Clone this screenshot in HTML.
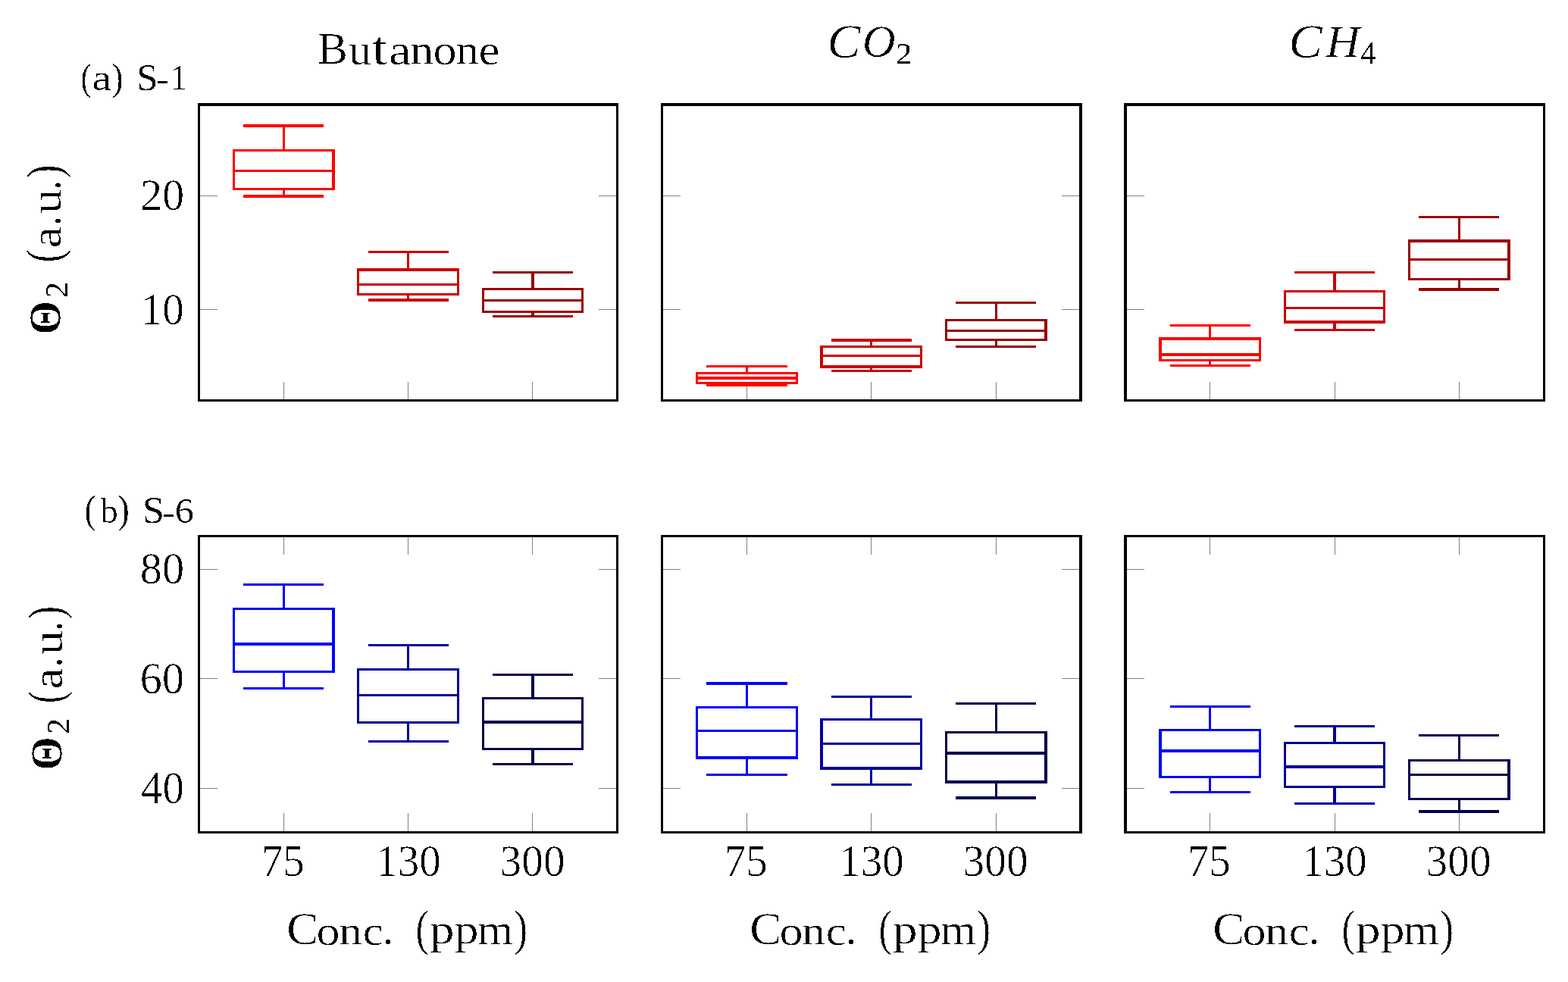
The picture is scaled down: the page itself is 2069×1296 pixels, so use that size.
<!DOCTYPE html>
<html lang="en"><head><meta charset="utf-8"><title>Boxplots: Butanone, CO2, CH4 (S-1, S-6)</title>
<style>html,body{margin:0;padding:0;background:#fff}body{width:2069px;height:1296px;overflow:hidden}svg{display:block}text{font-family:'Liberation Serif', serif;fill:#000;stroke:#fff}</style></head><body>
<svg width="2069" height="1296" viewBox="0 0 2069 1296">
<rect width="2069" height="1296" fill="#fff"/>
<g fill="#808080" shape-rendering="crispEdges">
<rect x="374" y="504" width="1" height="23"/>
<rect x="538" y="504" width="1" height="23"/>
<rect x="702" y="504" width="1" height="23"/>
<rect x="264" y="258" width="23" height="1"/>
<rect x="790" y="258" width="23" height="1"/>
<rect x="264" y="408" width="23" height="1"/>
<rect x="790" y="408" width="23" height="1"/>
<rect x="985" y="504" width="1" height="23"/>
<rect x="1149" y="504" width="1" height="23"/>
<rect x="1314" y="504" width="1" height="23"/>
<rect x="875" y="258" width="23" height="1"/>
<rect x="1401" y="258" width="23" height="1"/>
<rect x="875" y="408" width="23" height="1"/>
<rect x="1401" y="408" width="23" height="1"/>
<rect x="1596" y="504" width="1" height="23"/>
<rect x="1761" y="504" width="1" height="23"/>
<rect x="1925" y="504" width="1" height="23"/>
<rect x="1487" y="258" width="23" height="1"/>
<rect x="1487" y="408" width="23" height="1"/>
<rect x="374" y="1073" width="1" height="24"/>
<rect x="374" y="709" width="1" height="23"/>
<rect x="538" y="1073" width="1" height="24"/>
<rect x="538" y="709" width="1" height="23"/>
<rect x="702" y="1073" width="1" height="24"/>
<rect x="702" y="709" width="1" height="23"/>
<rect x="264" y="751" width="23" height="1"/>
<rect x="790" y="751" width="23" height="1"/>
<rect x="264" y="895" width="23" height="1"/>
<rect x="790" y="895" width="23" height="1"/>
<rect x="264" y="1040" width="23" height="1"/>
<rect x="790" y="1040" width="23" height="1"/>
<rect x="985" y="1073" width="1" height="24"/>
<rect x="985" y="709" width="1" height="23"/>
<rect x="1149" y="1073" width="1" height="24"/>
<rect x="1149" y="709" width="1" height="23"/>
<rect x="1314" y="1073" width="1" height="24"/>
<rect x="1314" y="709" width="1" height="23"/>
<rect x="875" y="751" width="23" height="1"/>
<rect x="1401" y="751" width="23" height="1"/>
<rect x="875" y="895" width="23" height="1"/>
<rect x="1401" y="895" width="23" height="1"/>
<rect x="875" y="1040" width="23" height="1"/>
<rect x="1401" y="1040" width="23" height="1"/>
<rect x="1596" y="1073" width="1" height="24"/>
<rect x="1596" y="709" width="1" height="23"/>
<rect x="1761" y="1073" width="1" height="24"/>
<rect x="1761" y="709" width="1" height="23"/>
<rect x="1925" y="1073" width="1" height="24"/>
<rect x="1925" y="709" width="1" height="23"/>
<rect x="1487" y="751" width="23" height="1"/>
<rect x="1487" y="895" width="23" height="1"/>
<rect x="1487" y="1040" width="23" height="1"/>
</g>
<g fill="#ff0000" shape-rendering="crispEdges">
<rect x="321" y="164" width="106" height="4"/>
<rect x="321" y="257" width="106" height="4"/>
<rect x="373" y="164" width="3" height="36"/>
<rect x="373" y="248" width="3" height="13"/>
<rect x="307" y="197" width="135" height="3"/>
<rect x="307" y="248" width="135" height="3"/>
<rect x="307" y="224" width="135" height="3"/>
<rect x="307" y="197" width="3" height="54"/>
<rect x="438" y="197" width="4" height="54"/>
</g>
<g fill="#cc0000" shape-rendering="crispEdges">
<rect x="486" y="331" width="106" height="3"/>
<rect x="486" y="394" width="106" height="4"/>
<rect x="537" y="331" width="3" height="27"/>
<rect x="537" y="387" width="3" height="11"/>
<rect x="471" y="354" width="135" height="4"/>
<rect x="471" y="387" width="135" height="3"/>
<rect x="471" y="374" width="135" height="3"/>
<rect x="471" y="354" width="3" height="36"/>
<rect x="603" y="354" width="3" height="36"/>
</g>
<g fill="#990000" shape-rendering="crispEdges">
<rect x="650" y="358" width="106" height="3"/>
<rect x="650" y="416" width="106" height="3"/>
<rect x="701" y="358" width="4" height="25"/>
<rect x="701" y="410" width="4" height="9"/>
<rect x="636" y="380" width="134" height="3"/>
<rect x="636" y="410" width="134" height="3"/>
<rect x="636" y="395" width="134" height="3"/>
<rect x="636" y="380" width="3" height="33"/>
<rect x="767" y="380" width="3" height="33"/>
</g>
<g fill="#ff0000" shape-rendering="crispEdges">
<rect x="932" y="482" width="107" height="3"/>
<rect x="932" y="507" width="107" height="3"/>
<rect x="984" y="482" width="3" height="12"/>
<rect x="984" y="504" width="3" height="6"/>
<rect x="918" y="491" width="135" height="3"/>
<rect x="918" y="504" width="135" height="3"/>
<rect x="918" y="497" width="135" height="4"/>
<rect x="918" y="491" width="3" height="16"/>
<rect x="1050" y="491" width="3" height="16"/>
</g>
<g fill="#cc0000" shape-rendering="crispEdges">
<rect x="1097" y="447" width="106" height="4"/>
<rect x="1097" y="488" width="106" height="3"/>
<rect x="1148" y="447" width="3" height="12"/>
<rect x="1148" y="482" width="3" height="9"/>
<rect x="1082" y="456" width="135" height="3"/>
<rect x="1082" y="482" width="135" height="4"/>
<rect x="1082" y="468" width="135" height="3"/>
<rect x="1082" y="456" width="4" height="30"/>
<rect x="1214" y="456" width="3" height="30"/>
</g>
<g fill="#990000" shape-rendering="crispEdges">
<rect x="1261" y="398" width="106" height="3"/>
<rect x="1261" y="456" width="106" height="3"/>
<rect x="1313" y="398" width="3" height="26"/>
<rect x="1313" y="447" width="3" height="12"/>
<rect x="1247" y="421" width="135" height="3"/>
<rect x="1247" y="447" width="135" height="3"/>
<rect x="1247" y="435" width="135" height="3"/>
<rect x="1247" y="421" width="3" height="29"/>
<rect x="1378" y="421" width="4" height="29"/>
</g>
<g fill="#ff0000" shape-rendering="crispEdges">
<rect x="1544" y="428" width="106" height="3"/>
<rect x="1544" y="481" width="106" height="3"/>
<rect x="1595" y="428" width="3" height="21"/>
<rect x="1595" y="474" width="3" height="10"/>
<rect x="1529" y="445" width="135" height="4"/>
<rect x="1529" y="474" width="135" height="3"/>
<rect x="1529" y="466" width="135" height="4"/>
<rect x="1529" y="445" width="4" height="32"/>
<rect x="1661" y="445" width="3" height="32"/>
</g>
<g fill="#cc0000" shape-rendering="crispEdges">
<rect x="1708" y="358" width="106" height="3"/>
<rect x="1708" y="434" width="106" height="3"/>
<rect x="1759" y="358" width="4" height="28"/>
<rect x="1759" y="423" width="4" height="14"/>
<rect x="1694" y="383" width="134" height="3"/>
<rect x="1694" y="423" width="134" height="4"/>
<rect x="1694" y="405" width="134" height="3"/>
<rect x="1694" y="383" width="3" height="44"/>
<rect x="1825" y="383" width="3" height="44"/>
</g>
<g fill="#990000" shape-rendering="crispEdges">
<rect x="1872" y="285" width="106" height="3"/>
<rect x="1872" y="380" width="106" height="4"/>
<rect x="1924" y="285" width="3" height="35"/>
<rect x="1924" y="367" width="3" height="17"/>
<rect x="1858" y="316" width="135" height="4"/>
<rect x="1858" y="367" width="135" height="3"/>
<rect x="1858" y="341" width="135" height="3"/>
<rect x="1858" y="316" width="3" height="54"/>
<rect x="1989" y="316" width="4" height="54"/>
</g>
<g fill="#0000ff" shape-rendering="crispEdges">
<rect x="321" y="770" width="106" height="3"/>
<rect x="321" y="907" width="106" height="3"/>
<rect x="373" y="770" width="3" height="35"/>
<rect x="373" y="885" width="3" height="25"/>
<rect x="307" y="802" width="135" height="3"/>
<rect x="307" y="885" width="135" height="3"/>
<rect x="307" y="848" width="135" height="4"/>
<rect x="307" y="802" width="3" height="86"/>
<rect x="438" y="802" width="4" height="86"/>
</g>
<g fill="#000099" shape-rendering="crispEdges">
<rect x="486" y="850" width="106" height="3"/>
<rect x="486" y="977" width="106" height="3"/>
<rect x="537" y="850" width="3" height="35"/>
<rect x="537" y="952" width="3" height="28"/>
<rect x="471" y="882" width="135" height="3"/>
<rect x="471" y="952" width="135" height="3"/>
<rect x="471" y="916" width="135" height="3"/>
<rect x="471" y="882" width="3" height="73"/>
<rect x="603" y="882" width="3" height="73"/>
</g>
<g fill="#00004d" shape-rendering="crispEdges">
<rect x="650" y="889" width="106" height="3"/>
<rect x="650" y="1007" width="106" height="3"/>
<rect x="701" y="889" width="4" height="34"/>
<rect x="701" y="987" width="4" height="23"/>
<rect x="636" y="920" width="134" height="3"/>
<rect x="636" y="987" width="134" height="3"/>
<rect x="636" y="951" width="134" height="4"/>
<rect x="636" y="920" width="3" height="70"/>
<rect x="767" y="920" width="3" height="70"/>
</g>
<g fill="#0000ff" shape-rendering="crispEdges">
<rect x="932" y="900" width="107" height="4"/>
<rect x="932" y="1021" width="107" height="3"/>
<rect x="984" y="900" width="3" height="35"/>
<rect x="984" y="998" width="3" height="26"/>
<rect x="918" y="932" width="135" height="3"/>
<rect x="918" y="998" width="135" height="4"/>
<rect x="918" y="963" width="135" height="3"/>
<rect x="918" y="932" width="3" height="70"/>
<rect x="1050" y="932" width="3" height="70"/>
</g>
<g fill="#000099" shape-rendering="crispEdges">
<rect x="1097" y="918" width="106" height="3"/>
<rect x="1097" y="1034" width="106" height="3"/>
<rect x="1148" y="918" width="3" height="33"/>
<rect x="1148" y="1012" width="3" height="25"/>
<rect x="1082" y="948" width="135" height="3"/>
<rect x="1082" y="1012" width="135" height="4"/>
<rect x="1082" y="980" width="135" height="3"/>
<rect x="1082" y="948" width="4" height="68"/>
<rect x="1214" y="948" width="3" height="68"/>
</g>
<g fill="#00004d" shape-rendering="crispEdges">
<rect x="1261" y="927" width="106" height="3"/>
<rect x="1261" y="1051" width="106" height="4"/>
<rect x="1313" y="927" width="3" height="41"/>
<rect x="1313" y="1030" width="3" height="25"/>
<rect x="1247" y="965" width="135" height="3"/>
<rect x="1247" y="1030" width="135" height="4"/>
<rect x="1247" y="992" width="135" height="4"/>
<rect x="1247" y="965" width="3" height="69"/>
<rect x="1378" y="965" width="4" height="69"/>
</g>
<g fill="#0000ff" shape-rendering="crispEdges">
<rect x="1544" y="931" width="106" height="3"/>
<rect x="1544" y="1044" width="106" height="3"/>
<rect x="1595" y="931" width="3" height="34"/>
<rect x="1595" y="1024" width="3" height="23"/>
<rect x="1529" y="962" width="135" height="3"/>
<rect x="1529" y="1024" width="135" height="3"/>
<rect x="1529" y="989" width="135" height="4"/>
<rect x="1529" y="962" width="4" height="65"/>
<rect x="1661" y="962" width="3" height="65"/>
</g>
<g fill="#000099" shape-rendering="crispEdges">
<rect x="1708" y="957" width="106" height="3"/>
<rect x="1708" y="1059" width="106" height="3"/>
<rect x="1759" y="957" width="4" height="25"/>
<rect x="1759" y="1037" width="4" height="25"/>
<rect x="1694" y="979" width="134" height="3"/>
<rect x="1694" y="1037" width="134" height="3"/>
<rect x="1694" y="1010" width="134" height="4"/>
<rect x="1694" y="979" width="3" height="61"/>
<rect x="1825" y="979" width="3" height="61"/>
</g>
<g fill="#00004d" shape-rendering="crispEdges">
<rect x="1872" y="969" width="106" height="3"/>
<rect x="1872" y="1069" width="106" height="4"/>
<rect x="1924" y="969" width="3" height="36"/>
<rect x="1924" y="1053" width="3" height="20"/>
<rect x="1858" y="1002" width="135" height="3"/>
<rect x="1858" y="1053" width="135" height="3"/>
<rect x="1858" y="1021" width="135" height="3"/>
<rect x="1858" y="1002" width="3" height="54"/>
<rect x="1989" y="1002" width="4" height="54"/>
</g>
<g fill="#000" shape-rendering="crispEdges">
<rect x="261" y="136" width="555" height="4"/>
<rect x="261" y="527" width="555" height="3"/>
<rect x="261" y="136" width="3" height="394"/>
<rect x="813" y="136" width="3" height="394"/>
<rect x="872" y="136" width="556" height="4"/>
<rect x="872" y="527" width="556" height="3"/>
<rect x="872" y="136" width="3" height="394"/>
<rect x="1424" y="136" width="4" height="394"/>
<rect x="1483" y="136" width="556" height="4"/>
<rect x="1483" y="527" width="556" height="3"/>
<rect x="1483" y="136" width="4" height="394"/>
<rect x="2036" y="136" width="3" height="394"/>
<rect x="261" y="706" width="555" height="3"/>
<rect x="261" y="1097" width="555" height="3"/>
<rect x="261" y="706" width="3" height="394"/>
<rect x="813" y="706" width="3" height="394"/>
<rect x="872" y="706" width="556" height="3"/>
<rect x="872" y="1097" width="556" height="3"/>
<rect x="872" y="706" width="3" height="394"/>
<rect x="1424" y="706" width="4" height="394"/>
<rect x="1483" y="706" width="556" height="3"/>
<rect x="1483" y="1097" width="556" height="3"/>
<rect x="1483" y="706" width="4" height="394"/>
<rect x="2036" y="706" width="3" height="394"/>
</g>
<defs><filter id="crisp" filterUnits="userSpaceOnUse" x="0" y="0" width="2069" height="1296" color-interpolation-filters="sRGB"><feColorMatrix type="matrix" values="0 0 0 0 0  0 0 0 0 0  0 0 0 0 0  -1 0 0 1 0"/><feComponentTransfer><feFuncA type="discrete" tableValues="0 1"/></feComponentTransfer></filter></defs>
<g filter="url(#crisp)">
<text><tspan x="418.88" y="83.90" font-size="59.90" stroke-width="0.3" textLength="39.96" lengthAdjust="spacingAndGlyphs">B</tspan><tspan x="460.29" y="84.51" font-size="56.59" stroke-width="0.3" textLength="29.80" lengthAdjust="spacingAndGlyphs">u</tspan><tspan x="491.06" y="85.05" font-size="63.88" stroke-width="0.3" textLength="20.07" lengthAdjust="spacingAndGlyphs">t</tspan><tspan x="512.91" y="84.50" font-size="57.06" stroke-width="0.3" textLength="29.69" lengthAdjust="spacingAndGlyphs">a</tspan><tspan x="541.22" y="83.78" font-size="54.74" stroke-width="0.3" textLength="31.07" lengthAdjust="spacingAndGlyphs">n</tspan><tspan x="571.41" y="84.50" font-size="57.06" stroke-width="0.3" textLength="31.07" lengthAdjust="spacingAndGlyphs">o</tspan><tspan x="601.42" y="83.90" font-size="53.97" stroke-width="0.3" textLength="30.39" lengthAdjust="spacingAndGlyphs">n</tspan><tspan x="631.42" y="84.50" font-size="57.06" stroke-width="0.3" textLength="28.01" lengthAdjust="spacingAndGlyphs">e</tspan></text>
<text><tspan x="1091.62" y="75.83" font-size="63.14" font-style="italic" stroke-width="0.3" textLength="44.01" lengthAdjust="spacingAndGlyphs">C</tspan><tspan x="1137.73" y="75.17" font-size="61.04" font-style="italic" stroke-width="0.3" textLength="43.95" lengthAdjust="spacingAndGlyphs">O</tspan><tspan x="1182.03" y="83.90" font-size="40.45" stroke-width="0" textLength="21.37" lengthAdjust="spacingAndGlyphs">2</tspan></text>
<text><tspan x="1700.60" y="75.83" font-size="63.14" font-style="italic" stroke-width="0.3" textLength="44.24" lengthAdjust="spacingAndGlyphs">C</tspan><tspan x="1749.44" y="75.00" font-size="60.06" font-style="italic" stroke-width="0.3" textLength="45.05" lengthAdjust="spacingAndGlyphs">H</tspan><tspan x="1795.24" y="83.90" font-size="41.14" stroke-width="0" textLength="20.37" lengthAdjust="spacingAndGlyphs">4</tspan></text>
<text><tspan x="106.57" y="118.51" font-size="50.34" stroke-width="0.1" textLength="14.39" lengthAdjust="spacingAndGlyphs">(</tspan><tspan x="121.20" y="119.09" font-size="49.00" stroke-width="0.1" textLength="26.08" lengthAdjust="spacingAndGlyphs">a</tspan><tspan x="147.38" y="118.51" font-size="50.34" stroke-width="0.1" textLength="15.14" lengthAdjust="spacingAndGlyphs">)</tspan><tspan> </tspan><tspan x="180.28" y="119.07" font-size="50.99" stroke-width="0.1" textLength="28.29" lengthAdjust="spacingAndGlyphs">S</tspan><tspan x="205.79" y="118.78" font-size="43.34" stroke-width="0.1" textLength="17.24" lengthAdjust="spacingAndGlyphs">-</tspan><tspan x="224.77" y="118.40" font-size="46.93" stroke-width="0.1" textLength="22.21" lengthAdjust="spacingAndGlyphs">1</tspan></text>
<text><tspan x="111.56" y="690.22" font-size="51.95" stroke-width="0.1" textLength="15.32" lengthAdjust="spacingAndGlyphs">(</tspan><tspan x="132.68" y="689.80" font-size="46.48" stroke-width="0.1" textLength="23.04" lengthAdjust="spacingAndGlyphs">b</tspan><tspan x="155.11" y="689.96" font-size="52.02" stroke-width="0.1" textLength="15.92" lengthAdjust="spacingAndGlyphs">)</tspan><tspan> </tspan><tspan x="187.66" y="690.27" font-size="50.43" stroke-width="0.1" textLength="29.39" lengthAdjust="spacingAndGlyphs">S</tspan><tspan x="213.91" y="690.41" font-size="42.51" stroke-width="0.1" textLength="17.26" lengthAdjust="spacingAndGlyphs">-</tspan><tspan x="230.84" y="689.81" font-size="47.03" stroke-width="0.1" textLength="25.13" lengthAdjust="spacingAndGlyphs">6</tspan></text>
<text transform="rotate(-90)"><tspan x="-441.73" y="78.70" font-size="58.96" font-weight="bold" stroke-width="0.6" textLength="44.96" lengthAdjust="spacingAndGlyphs">Θ</tspan><tspan x="-393.28" y="88.50" font-size="41.66" stroke-width="0" textLength="21.50" lengthAdjust="spacingAndGlyphs">2</tspan><tspan> </tspan><tspan x="-346.42" y="79.98" font-size="65.65" stroke-width="0.3" textLength="17.33" lengthAdjust="spacingAndGlyphs">(</tspan><tspan x="-327.51" y="79.82" font-size="57.06" stroke-width="0.3" textLength="28.56" lengthAdjust="spacingAndGlyphs">a</tspan><tspan x="-297.94" y="79.88" font-size="67.35" stroke-width="0.3" textLength="13.17" lengthAdjust="spacingAndGlyphs">.</tspan><tspan x="-282.12" y="79.71" font-size="56.85" stroke-width="0.3" textLength="32.19" lengthAdjust="spacingAndGlyphs">u</tspan><tspan x="-250.66" y="79.88" font-size="67.35" stroke-width="0.3" textLength="13.17" lengthAdjust="spacingAndGlyphs">.</tspan><tspan x="-235.47" y="80.37" font-size="64.65" stroke-width="0.3" textLength="18.31" lengthAdjust="spacingAndGlyphs">)</tspan></text>
<text transform="rotate(-90)"><tspan x="-1016.79" y="81.44" font-size="59.87" font-weight="bold" stroke-width="0.6" textLength="44.64" lengthAdjust="spacingAndGlyphs">Θ</tspan><tspan x="-968.66" y="90.64" font-size="41.30" stroke-width="0" textLength="20.85" lengthAdjust="spacingAndGlyphs">2</tspan><tspan> </tspan><tspan x="-928.15" y="82.36" font-size="65.65" stroke-width="0.3" textLength="16.54" lengthAdjust="spacingAndGlyphs">(</tspan><tspan x="-909.83" y="81.66" font-size="57.06" stroke-width="0.3" textLength="28.56" lengthAdjust="spacingAndGlyphs">a</tspan><tspan x="-880.38" y="81.66" font-size="67.35" stroke-width="0.3" textLength="13.17" lengthAdjust="spacingAndGlyphs">.</tspan><tspan x="-864.46" y="81.66" font-size="57.36" stroke-width="0.3" textLength="32.77" lengthAdjust="spacingAndGlyphs">u</tspan><tspan x="-833.10" y="81.66" font-size="67.35" stroke-width="0.3" textLength="13.17" lengthAdjust="spacingAndGlyphs">.</tspan><tspan x="-817.50" y="82.17" font-size="65.99" stroke-width="0.3" textLength="17.84" lengthAdjust="spacingAndGlyphs">)</tspan></text>
<text><tspan x="185.28" y="276.81" font-size="58.45" stroke-width="0.3" textLength="57.88" lengthAdjust="spacingAndGlyphs">20</tspan></text>
<text><tspan x="185.87" y="428.09" font-size="58.86" stroke-width="0.3" textLength="56.95" lengthAdjust="spacingAndGlyphs">10</tspan></text>
<text><tspan x="184.76" y="769.81" font-size="59.16" stroke-width="0.3" textLength="58.42" lengthAdjust="spacingAndGlyphs">80</tspan></text>
<text><tspan x="184.49" y="915.12" font-size="59.40" stroke-width="0.3" textLength="58.70" lengthAdjust="spacingAndGlyphs">60</tspan></text>
<text><tspan x="185.97" y="1060.07" font-size="60.83" stroke-width="0.3" textLength="56.87" lengthAdjust="spacingAndGlyphs">40</tspan></text>
<text><tspan x="344.64" y="1155.69" font-size="59.27" stroke-width="0.3" textLength="57.09" lengthAdjust="spacingAndGlyphs">75</tspan></text>
<text><tspan x="496.31" y="1155.70" font-size="58.12" stroke-width="0.3" textLength="85.46" lengthAdjust="spacingAndGlyphs">130</tspan></text>
<text><tspan x="659.61" y="1155.70" font-size="58.12" stroke-width="0.3" textLength="85.96" lengthAdjust="spacingAndGlyphs">300</tspan></text>
<text><tspan x="955.64" y="1155.69" font-size="59.27" stroke-width="0.3" textLength="57.09" lengthAdjust="spacingAndGlyphs">75</tspan></text>
<text><tspan x="1107.31" y="1155.70" font-size="58.12" stroke-width="0.3" textLength="85.46" lengthAdjust="spacingAndGlyphs">130</tspan></text>
<text><tspan x="1270.61" y="1155.70" font-size="58.12" stroke-width="0.3" textLength="85.96" lengthAdjust="spacingAndGlyphs">300</tspan></text>
<text><tspan x="1566.64" y="1155.69" font-size="59.27" stroke-width="0.3" textLength="57.09" lengthAdjust="spacingAndGlyphs">75</tspan></text>
<text><tspan x="1718.31" y="1155.70" font-size="58.12" stroke-width="0.3" textLength="85.46" lengthAdjust="spacingAndGlyphs">130</tspan></text>
<text><tspan x="1881.61" y="1155.70" font-size="58.12" stroke-width="0.3" textLength="85.96" lengthAdjust="spacingAndGlyphs">300</tspan></text>
<text><tspan x="378.16" y="1246.47" font-size="61.34" stroke-width="0.3" textLength="42.09" lengthAdjust="spacingAndGlyphs">C</tspan><tspan x="417.46" y="1246.52" font-size="55.30" stroke-width="0.3" textLength="31.02" lengthAdjust="spacingAndGlyphs">o</tspan><tspan x="447.29" y="1245.80" font-size="51.84" stroke-width="0.3" textLength="30.83" lengthAdjust="spacingAndGlyphs">n</tspan><tspan x="478.66" y="1246.52" font-size="55.30" stroke-width="0.3" textLength="27.03" lengthAdjust="spacingAndGlyphs">c</tspan><tspan x="504.85" y="1245.83" font-size="58.84" stroke-width="0.3" textLength="14.36" lengthAdjust="spacingAndGlyphs">.</tspan><tspan> </tspan><tspan x="548.53" y="1246.62" font-size="64.78" stroke-width="0.3" textLength="17.20" lengthAdjust="spacingAndGlyphs">(</tspan><tspan x="566.78" y="1244.82" font-size="54.83" stroke-width="0.3" textLength="32.88" lengthAdjust="spacingAndGlyphs">p</tspan><tspan x="599.59" y="1245.15" font-size="53.86" stroke-width="0.3" textLength="32.07" lengthAdjust="spacingAndGlyphs">p</tspan><tspan x="630.04" y="1245.68" font-size="56.41" stroke-width="0.3" textLength="47.24" lengthAdjust="spacingAndGlyphs">m</tspan><tspan x="678.10" y="1246.62" font-size="64.78" stroke-width="0.3" textLength="18.26" lengthAdjust="spacingAndGlyphs">)</tspan></text>
<text><tspan x="989.16" y="1246.47" font-size="61.34" stroke-width="0.3" textLength="42.09" lengthAdjust="spacingAndGlyphs">C</tspan><tspan x="1028.46" y="1246.52" font-size="55.30" stroke-width="0.3" textLength="31.02" lengthAdjust="spacingAndGlyphs">o</tspan><tspan x="1058.29" y="1245.80" font-size="51.84" stroke-width="0.3" textLength="30.83" lengthAdjust="spacingAndGlyphs">n</tspan><tspan x="1089.66" y="1246.52" font-size="55.30" stroke-width="0.3" textLength="27.03" lengthAdjust="spacingAndGlyphs">c</tspan><tspan x="1115.85" y="1245.83" font-size="58.84" stroke-width="0.3" textLength="14.36" lengthAdjust="spacingAndGlyphs">.</tspan><tspan> </tspan><tspan x="1159.53" y="1246.62" font-size="64.78" stroke-width="0.3" textLength="17.20" lengthAdjust="spacingAndGlyphs">(</tspan><tspan x="1177.78" y="1244.82" font-size="54.83" stroke-width="0.3" textLength="32.88" lengthAdjust="spacingAndGlyphs">p</tspan><tspan x="1210.59" y="1245.15" font-size="53.86" stroke-width="0.3" textLength="32.07" lengthAdjust="spacingAndGlyphs">p</tspan><tspan x="1241.04" y="1245.68" font-size="56.41" stroke-width="0.3" textLength="47.24" lengthAdjust="spacingAndGlyphs">m</tspan><tspan x="1289.10" y="1246.62" font-size="64.78" stroke-width="0.3" textLength="18.26" lengthAdjust="spacingAndGlyphs">)</tspan></text>
<text><tspan x="1600.16" y="1246.47" font-size="61.34" stroke-width="0.3" textLength="42.09" lengthAdjust="spacingAndGlyphs">C</tspan><tspan x="1639.46" y="1246.52" font-size="55.30" stroke-width="0.3" textLength="31.02" lengthAdjust="spacingAndGlyphs">o</tspan><tspan x="1669.29" y="1245.80" font-size="51.84" stroke-width="0.3" textLength="30.83" lengthAdjust="spacingAndGlyphs">n</tspan><tspan x="1700.66" y="1246.52" font-size="55.30" stroke-width="0.3" textLength="27.03" lengthAdjust="spacingAndGlyphs">c</tspan><tspan x="1726.85" y="1245.83" font-size="58.84" stroke-width="0.3" textLength="14.36" lengthAdjust="spacingAndGlyphs">.</tspan><tspan> </tspan><tspan x="1770.53" y="1246.62" font-size="64.78" stroke-width="0.3" textLength="17.20" lengthAdjust="spacingAndGlyphs">(</tspan><tspan x="1788.78" y="1244.82" font-size="54.83" stroke-width="0.3" textLength="32.88" lengthAdjust="spacingAndGlyphs">p</tspan><tspan x="1821.59" y="1245.15" font-size="53.86" stroke-width="0.3" textLength="32.07" lengthAdjust="spacingAndGlyphs">p</tspan><tspan x="1852.04" y="1245.68" font-size="56.41" stroke-width="0.3" textLength="47.24" lengthAdjust="spacingAndGlyphs">m</tspan><tspan x="1900.10" y="1246.62" font-size="64.78" stroke-width="0.3" textLength="18.26" lengthAdjust="spacingAndGlyphs">)</tspan></text>
</g>
</svg></body></html>
